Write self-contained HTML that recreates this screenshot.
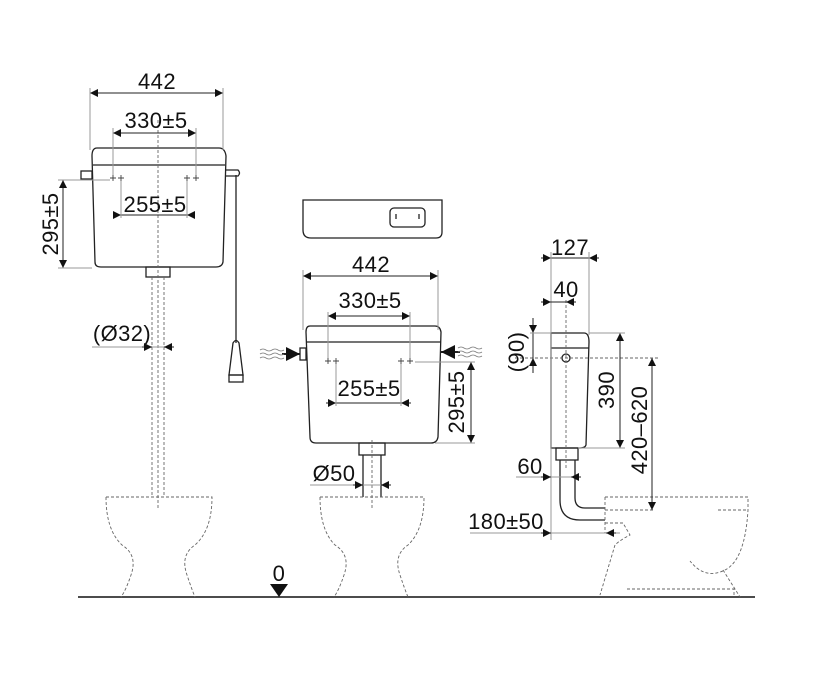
<!DOCTYPE html>
<html><head><meta charset="utf-8"><style>
html,body{margin:0;padding:0;background:#fff}
svg{display:block}
text{font-family:"Liberation Sans","DejaVu Sans",sans-serif;font-size:22px;letter-spacing:0.4px;fill:#111;text-anchor:middle}
</style></head><body>
<svg width="837" height="684" viewBox="0 0 837 684" xmlns="http://www.w3.org/2000/svg">
<defs>
<marker id="a" viewBox="0 0 10 10" refX="10" refY="5" markerWidth="11" markerHeight="8" orient="auto-start-reverse" markerUnits="userSpaceOnUse"><path d="M0,0L10,5L0,10z" fill="#111"/></marker>
<marker id="b" viewBox="0 0 10 10" refX="10" refY="5" markerWidth="16" markerHeight="14" orient="auto-start-reverse" markerUnits="userSpaceOnUse"><path d="M0,0L10,5L0,10z" fill="#111"/></marker>
</defs>
<g fill="none" stroke="#222" stroke-width="1.3">
<path d="M97,148 H219 Q225,148 226,156 L223,262 Q222,267 216,267 H101 Q95,267 95,262 L92,156 Q92,148 97,148Z"/>
<line x1="93" y1="165" x2="225" y2="165"/>
<rect x="81" y="171" width="11" height="8"/>
<path d="M226,170 H238 Q241,173 238,176 H226"/>
<rect x="146" y="267" width="24" height="10"/>
<line x1="236" y1="175" x2="236" y2="343"/>
<path d="M233,343 Q236,338 239,343 L243,375 H229Z"/>
<rect x="229" y="375" width="14" height="7"/>
<path d="M303,200 H442 V232 Q442,238 436,238 H311 Q303,238 303,230Z"/>
<rect x="390" y="208" width="35" height="19" rx="4"/>
<line x1="396" y1="214" x2="396" y2="219"/><line x1="419" y1="214" x2="419" y2="219"/>
<path d="M310,326 H435 Q440,326 441,332 L438,437 Q437,443 431,443 H316 Q310,443 310,437 L306,332 Q306,326 310,326Z"/>
<line x1="306" y1="342" x2="441" y2="342"/>
<rect x="300" y="348" width="6" height="12"/>
<rect x="359" y="443" width="26" height="12"/>
<line x1="363" y1="455" x2="363" y2="497"/><line x1="381" y1="455" x2="381" y2="497"/>
<path d="M551,333 H584 Q589,333 589,342 L586,445 Q585,448 580,448 H551Z"/>
<line x1="551" y1="348" x2="589" y2="348"/>
<circle cx="566" cy="358" r="4"/>
<rect x="556" y="448" width="22" height="12"/>
<path d="M560,460 V500 Q560,520 580,520 H605"/>
<path d="M575,460 V498 Q575,508 585,508 H605"/>
</g>
<line x1="78" y1="597" x2="755" y2="597" stroke="#111" stroke-width="1.6"/>
<g fill="none" stroke="#666" stroke-width="0.9" stroke-dasharray="3,2">
<line x1="158" y1="120" x2="158" y2="510"/>
<line x1="152" y1="277" x2="152" y2="497"/><line x1="164" y1="277" x2="164" y2="497"/>
<line x1="372" y1="440" x2="372" y2="510"/>
<line x1="566" y1="300" x2="566" y2="470"/>
<line x1="515" y1="358" x2="660" y2="358"/>
<path d="M106,497 H212 Q212,530 195,545 Q180,555 187,575 Q192,590 195,597"/>
<path d="M106,497 Q106,530 122,545 Q138,555 131,575 Q126,590 121,597"/>
<path d="M320,497 H424 Q424,530 408,545 Q393,555 400,575 Q405,590 408,597"/>
<path d="M320,497 Q320,530 335,545 Q351,555 344,575 Q339,590 334,597"/>
<path d="M605,497 H748 V510 Q745,560 725,570 Q705,580 690,561"/>
<path d="M605,523 H623 L630,535 Q620,540 615,545 L600,595"/>
<path d="M723,570 L740,597"/>
<path d="M627,589 H734 V597"/>
<line x1="605" y1="497" x2="605" y2="533"/>
<line x1="605" y1="510" x2="655" y2="510"/>
<line x1="718" y1="510" x2="748" y2="510"/>
</g>
<g stroke="#222" stroke-width="1" fill="none">
<line x1="90" y1="93" x2="223" y2="93" marker-start="url(#a)" marker-end="url(#a)"/>
<line x1="90" y1="88" x2="90" y2="150" stroke="#999"/><line x1="223" y1="88" x2="223" y2="150" stroke="#999"/>
<line x1="113" y1="133" x2="196" y2="133" marker-start="url(#a)" marker-end="url(#a)"/>
<line x1="113" y1="128" x2="113" y2="180" stroke="#999"/><line x1="196" y1="128" x2="196" y2="180" stroke="#999"/>
<line x1="113" y1="215" x2="195" y2="215"/>
<line x1="113" y1="215" x2="121" y2="215" marker-end="url(#a)"/><line x1="195" y1="215" x2="187" y2="215" marker-end="url(#a)"/>
<line x1="121" y1="180" x2="121" y2="218" stroke="#999"/><line x1="187" y1="180" x2="187" y2="218" stroke="#999"/>
<line x1="63" y1="180" x2="63" y2="268" marker-start="url(#a)" marker-end="url(#a)"/>
<line x1="58" y1="180" x2="110" y2="180" stroke="#999"/><line x1="58" y1="268" x2="92" y2="268" stroke="#999"/>
<line x1="92" y1="347" x2="174" y2="347" stroke="#999"/>
<line x1="142" y1="347" x2="152" y2="347" marker-end="url(#a)"/><line x1="174" y1="347" x2="164" y2="347" marker-end="url(#a)"/>
<line x1="303" y1="276" x2="438" y2="276" marker-start="url(#a)" marker-end="url(#a)"/>
<line x1="303" y1="270" x2="303" y2="330" stroke="#999"/><line x1="438" y1="270" x2="438" y2="330" stroke="#999"/>
<line x1="328" y1="316" x2="410" y2="316" marker-start="url(#a)" marker-end="url(#a)"/>
<line x1="328" y1="312" x2="328" y2="363" stroke="#999"/><line x1="410" y1="312" x2="410" y2="363" stroke="#999"/>
<line x1="328" y1="403" x2="409" y2="403"/>
<line x1="326" y1="403" x2="336" y2="403" marker-end="url(#a)"/><line x1="411" y1="403" x2="401" y2="403" marker-end="url(#a)"/>
<line x1="336" y1="363" x2="336" y2="406" stroke="#999"/><line x1="401" y1="363" x2="401" y2="406" stroke="#999"/>
<line x1="471" y1="362" x2="471" y2="443" marker-start="url(#a)" marker-end="url(#a)"/>
<line x1="415" y1="362" x2="475" y2="362" stroke="#999"/><line x1="435" y1="443" x2="475" y2="443" stroke="#999"/>
<line x1="310" y1="485" x2="390" y2="485" stroke="#999"/>
<line x1="353" y1="485" x2="363" y2="485" marker-end="url(#a)"/><line x1="391" y1="485" x2="381" y2="485" marker-end="url(#a)"/>
<line x1="282" y1="354" x2="300" y2="354" stroke-width="2" marker-end="url(#b)"/>
<line x1="460" y1="352" x2="441" y2="352" stroke-width="2" marker-end="url(#b)"/>
<line x1="543" y1="258" x2="597" y2="258"/>
<line x1="541" y1="258" x2="551" y2="258" marker-end="url(#a)"/><line x1="599" y1="258" x2="589" y2="258" marker-end="url(#a)"/>
<line x1="551" y1="252" x2="551" y2="540" stroke="#999"/><line x1="589" y1="252" x2="589" y2="335" stroke="#999"/>
<line x1="543" y1="302" x2="574" y2="302"/>
<line x1="541" y1="302" x2="551" y2="302" marker-end="url(#a)"/><line x1="576" y1="302" x2="566" y2="302" marker-end="url(#a)"/>
<line x1="533" y1="318" x2="533" y2="373"/>
<line x1="533" y1="323" x2="533" y2="333" marker-end="url(#a)"/><line x1="533" y1="368" x2="533" y2="358" marker-end="url(#a)"/>
<line x1="530" y1="333" x2="551" y2="333" stroke="#999"/>
<line x1="620" y1="333" x2="620" y2="448" marker-start="url(#a)" marker-end="url(#a)"/>
<line x1="589" y1="333" x2="625" y2="333" stroke="#999"/><line x1="578" y1="448" x2="625" y2="448" stroke="#999"/>
<line x1="652" y1="358" x2="652" y2="510" marker-start="url(#a)" marker-end="url(#a)"/>
<line x1="516" y1="477" x2="580" y2="477" stroke="#999"/>
<line x1="541" y1="477" x2="551" y2="477" marker-end="url(#a)"/><line x1="581" y1="477" x2="571" y2="477" marker-end="url(#a)"/>
<line x1="470" y1="533" x2="620" y2="533" stroke="#999"/>
<line x1="541" y1="533" x2="551" y2="533" marker-end="url(#a)"/><line x1="616" y1="533" x2="606" y2="533" marker-end="url(#a)"/>
</g>
<g stroke="#444" stroke-width="0.9">
<path d="M110,178h6M113,175v6M118,178h6M121,175v6M184,178h6M187,175v6M193,178h6M196,175v6"/>
<path d="M325,361h6M328,358v6M333,361h6M336,358v6M398,361h6M401,358v6M407,361h6M410,358v6"/>
</g>
<g stroke="#777" stroke-width="0.8" fill="none">
<path d="M260,350q3,-2 6,0t6,0t6,0t6,0M260,354q3,-2 6,0t6,0t6,0t6,0M260,358q3,-2 6,0t6,0t6,0t6,0"/>
<path d="M458,348q3,-2 6,0t6,0t6,0t6,0M458,352q3,-2 6,0t6,0t6,0t6,0M458,356q3,-2 6,0t6,0t6,0t6,0"/>
</g>
<path d="M270,584H288L279,597Z" fill="#111"/>
<text x="157" y="89">442</text>
<text x="156" y="128">330±5</text>
<text x="155" y="212">255±5</text>
<text x="122" y="341">(Ø32)</text>
<text transform="translate(58,224) rotate(-90)">295±5</text>
<text x="371" y="272">442</text>
<text x="370" y="308">330±5</text>
<text x="369" y="396">255±5</text>
<text transform="translate(464,402) rotate(-90)">295±5</text>
<text x="334" y="481">Ø50</text>
<text x="570" y="255">127</text>
<text x="566" y="297">40</text>
<text transform="translate(524,352) rotate(-90)">(90)</text>
<text transform="translate(614,390) rotate(-90)">390</text>
<text transform="translate(647,430) rotate(-90)">420–620</text>
<text x="530" y="474">60</text>
<text x="506" y="529">180±50</text>
<text x="279" y="581">0</text>
</svg>
</body></html>
